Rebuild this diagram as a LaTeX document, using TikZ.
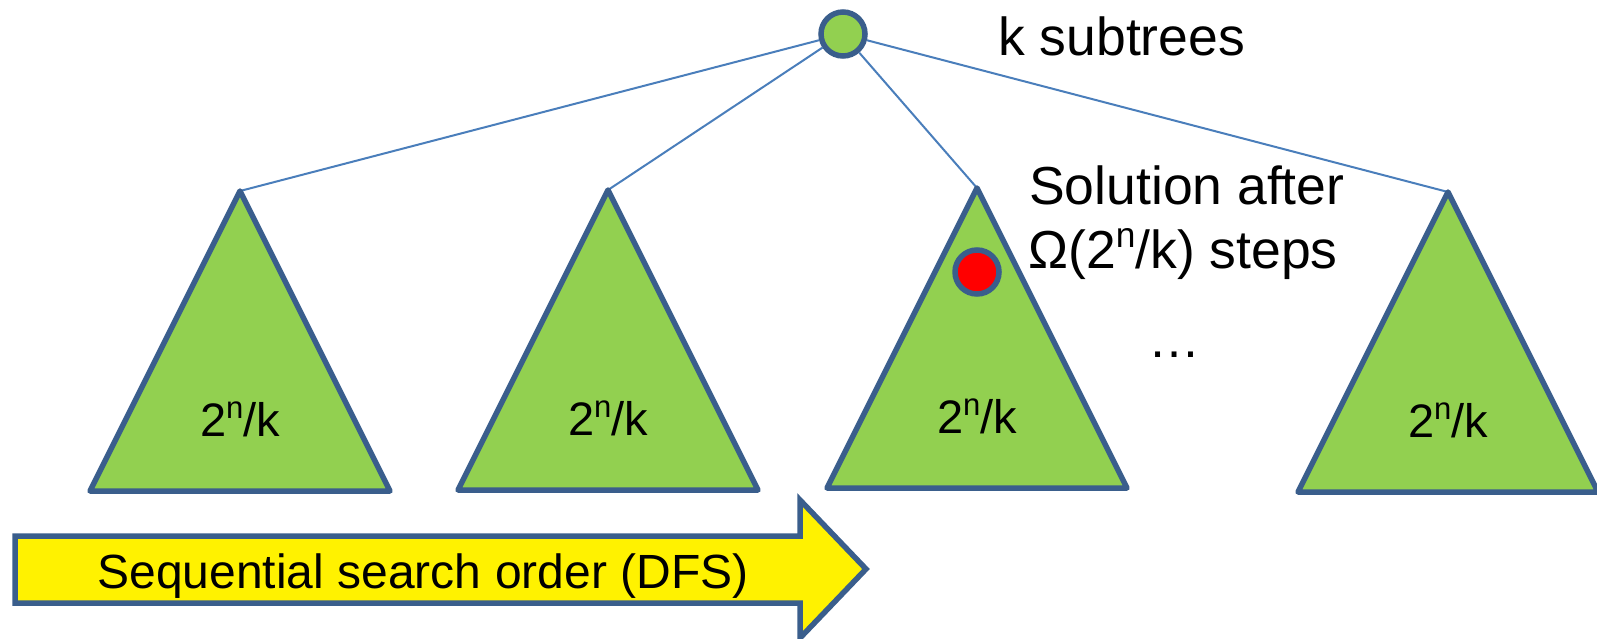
\documentclass[tikz,border=0pt]{standalone}
\usepackage{fontspec}
\setmainfont{Liberation Sans}
\usepackage{graphicx}
\usetikzlibrary{calc}
\definecolor{leafgreen}{HTML}{92D050}
\definecolor{edgeblue}{HTML}{3A5E8C}
\definecolor{linkblue}{HTML}{4A7EBB}
% raised, shrunk exponent as in 2^n
\newcommand\expo[1]{\raisebox{0.38em}{\scalebox{0.66}{#1}}}

\begin{document}
\begin{tikzpicture}[x=1pt,y=-1pt,
  subtree/.style={fill=leafgreen, draw=edgeblue, line width=5.5pt, line join=round},
  branch/.style={draw=linkblue, line width=2pt},
  treedot/.style={circle, draw=edgeblue, line width=5.5pt, minimum size=44pt, inner sep=0pt},
  sizelabel/.style={font=\fontsize{47}{56}\selectfont, inner sep=0pt, anchor=base},
  labeltext/.style={font=\fontsize{53.5}{64}\selectfont, inner sep=0pt, anchor=base west},
  arrowbox/.style={fill=yellow, draw=edgeblue, line width=5.5pt, line join=miter},
]
\useasboundingbox (0,0) rectangle (1597,638);

% apexes of the four subtrees
\coordinate (t1) at (240,191);
\coordinate (t2) at (608,190);
\coordinate (t3) at (977,188);
\coordinate (t4) at (1448,192);

% root of the search tree
\node[treedot, fill=leafgreen] (root) at (843,34) {};

% branches from the root to each subtree
\foreach \t in {t1,t2,t3,t4}
  \draw[branch] (root) -- (\t);

% subtrees with their sizes
\foreach \t in {t1,t2,t3,t4}{
  \draw[subtree] (\t) -- ++(-150,300) -- ++(300,0) -- cycle;
  \node[sizelabel] (\t size) at ($(\t)+(0,245)$) {2\expo{n}/k};
}

% the solution inside the third subtree
\node[treedot, fill=red] (sol) at (977,272) {};

% labels
\node[labeltext] (ksub) at (998,55) {k subtrees};
\node[labeltext] (solA) at (1029,204) {Solution after};
\node[labeltext] (solB) at (1028,268) {Ω(2\expo{n}/k) steps};
\node[font=\fontsize{52}{62}\selectfont, inner sep=0pt, anchor=base] (more) at (1174,357) {…};

% search order arrow
\draw[arrowbox] (15,536) -- (800,536) -- (800,500) -- (866,569) -- (800,638)
  -- (800,603) -- (15,603) -- cycle;
\node[font=\fontsize{48}{58}\selectfont, inner sep=0pt, anchor=base] (dfs) at (423,588)
  {Sequential search order (DFS)};
\end{tikzpicture}
\end{document}
